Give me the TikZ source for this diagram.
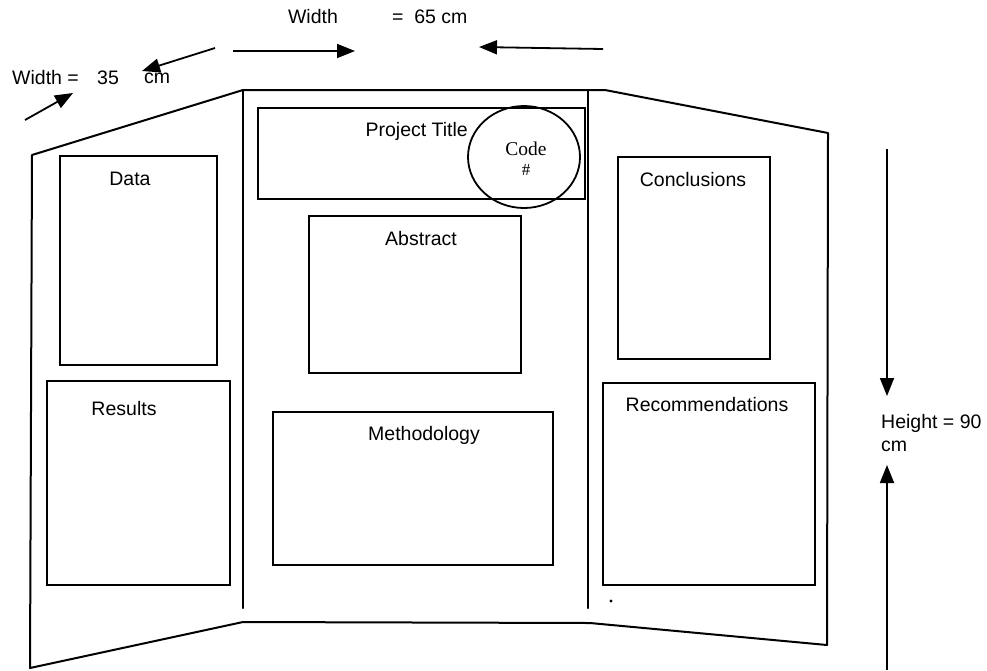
\documentclass[tikz,border=0pt]{standalone}
\usepackage{fontspec}
\setmainfont{Liberation Sans}
\newfontfamily\serifcode{Liberation Serif}
\usetikzlibrary{arrows.meta}
\begin{document}
\begin{tikzpicture}[x=1pt,y=-1pt,
  panel/.style={line width=2pt, line join=round, line cap=round},
  board/.style={draw, line width=2pt, inner sep=0pt},
  lbl/.style={font=\fontsize{19.5}{23.4}\selectfont, inner sep=0pt},
  dim/.style={line width=1.8pt, -{Triangle[length=18pt,width=14pt]}}]
\useasboundingbox (0,0) rectangle (987,670);
% ---- tri-fold board outline ----
\coordinate (LT) at (32,155);
\coordinate (LB) at (30,668);
\coordinate (CLT) at (243,90);
\coordinate (CLB) at (243,608);
\coordinate (CLBot) at (243,622);
\coordinate (CRT) at (588,90);
\coordinate (CRB) at (588,608);
\coordinate (TopEnd) at (605,90);
\coordinate (RT) at (828,133);
\coordinate (RB) at (827,645);
\coordinate (BotMid) at (590,623);
\draw[panel] (LB) -- (LT) -- (CLT) -- (TopEnd) -- (RT) -- (RB) -- (BotMid) -- (CLBot) -- cycle;
\draw[panel] (CLT) -- (CLB);
\draw[panel] (CRT) -- (CRB);
% ---- boxes ----
\node[board, minimum width=157pt, minimum height=209pt] (data) at (138.5,260.5) {};
\node[board, minimum width=183pt, minimum height=204pt] (results) at (138.5,483) {};
\node[board, minimum width=327pt, minimum height=91pt] (title) at (421.5,153) {};
\node[board, minimum width=212pt, minimum height=157pt] (abstract) at (415,294.5) {};
\node[board, minimum width=280pt, minimum height=153pt] (method) at (413,488.5) {};
\node[board, minimum width=152pt, minimum height=202pt] (concl) at (694,258) {};
\node[board, minimum width=212pt, minimum height=202pt] (recom) at (709,484) {};
\draw[line width=1.8pt] (524,157) ellipse [x radius=56, y radius=51];
% ---- labels ----
\node[lbl] (tData) at (130,179) {Data};
\node[lbl] (tResults) at (124,409) {Results};
\node[lbl, anchor=east] (tTitle) at (468,131) {Project Title};
\node[lbl, font=\serifcode\fontsize{19.5}{23.4}\selectfont] (tCode) at (526,149) {Code};
\node[lbl, font=\serifcode\fontsize{17}{20}\selectfont] (tHash) at (526,170) {\#};
\node[lbl] (tAbstract) at (421,239) {Abstract};
\node[lbl] (tMethod) at (424,435) {Methodology};
\node[lbl] (tConcl) at (693,180) {Conclusions};
\node[lbl] (tRecom) at (707,405) {Recommendations};
\node[lbl, anchor=west, align=left] (tHeight) at (881,433) {Height = 90\\cm};
\node[lbl] (tW65a) at (313,17) {Width};
\node[lbl, anchor=west] (tW65b) at (392,17) {=\hspace{0.55em}65 cm};
\node[lbl, anchor=west] (tW35a) at (12,78) {Width =};
\node[lbl, anchor=west] (tW35b) at (97,78) {35};
\node[lbl, anchor=west] (tW35c) at (144,78) {cm};
% ---- dimension arrows ----
\coordinate (a1s) at (233,51);
\coordinate (a1e) at (355,51);
\coordinate (a2s) at (603,49);
\coordinate (a2e) at (479,47);
\coordinate (a3s) at (215,48);
\coordinate (a3e) at (142,71);
\coordinate (a4s) at (25,120);
\coordinate (a4e) at (73,93);
\coordinate (h1s) at (887,149);
\coordinate (h1e) at (887,396);
\coordinate (h2s) at (887,670);
\coordinate (h2e) at (887,465);
\draw[dim] (a1s) -- (a1e);
\draw[dim] (a2s) -- (a2e);
\draw[dim] (a3s) -- (a3e);
\draw[dim] (a4s) -- (a4e);
\draw[dim] (h1s) -- (h1e);
\draw[dim] (h2s) -- (h2e);
% stray dot
\fill (611,601) circle (1.6pt);
\end{tikzpicture}
\end{document}
